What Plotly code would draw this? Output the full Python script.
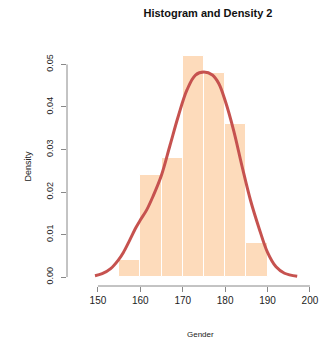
import plotly.graph_objects as go

bin_edges = [155, 160, 165, 170, 175, 180, 185, 190]
bin_density = [0.004, 0.024, 0.028, 0.052, 0.048, 0.036, 0.008]

dens_x = [149.3, 151, 153, 154.8, 156, 157.5, 159, 160, 161.5, 163, 165, 167, 169,
          171, 173, 175, 177, 178.5, 180, 182, 184, 186, 188, 190, 192, 194, 197]
dens_y = [0.0003, 0.0008, 0.002, 0.004, 0.0058, 0.0087, 0.0117, 0.0134, 0.0158, 0.019,
          0.024, 0.031, 0.038, 0.044, 0.0475, 0.0482, 0.0475, 0.0455, 0.0415, 0.0345,
          0.026, 0.018, 0.0115, 0.0058, 0.0024, 0.0009, 0.0002]

x_ticks = [150, 160, 170, 180, 190, 200]
y_ticks = [0.00, 0.01, 0.02, 0.03, 0.04, 0.05]
y_tick_text = ["0.00", "0.01", "0.02", "0.03", "0.04", "0.05"]

centers = [(a + b) / 2 for a, b in zip(bin_edges[:-1], bin_edges[1:])]
widths = [b - a for a, b in zip(bin_edges[:-1], bin_edges[1:])]

fig = go.Figure()
fig.add_trace(go.Bar(x=centers, y=bin_density, width=widths,
                     marker=dict(color="#FDDBBB", line=dict(color="white", width=1)),
                     hoverinfo="skip"))
fig.add_trace(go.Scatter(x=dens_x, y=dens_y, mode="lines", line_shape="spline",
                         line=dict(color="#C6524F", width=3)))

axcol = "#888888"
fig.update_layout(
    width=329, height=339,
    margin=dict(l=67, r=0, t=47, b=53),
    paper_bgcolor="white", plot_bgcolor="white",
    showlegend=False, bargap=0,
    font=dict(family="Liberation Sans, Arial, sans-serif", color="#222222"),
    title=dict(text="<b>Histogram and Density 2</b>", x=208/329, xref="container",
               xanchor="center", y=1-13/339, yref="container", yanchor="middle",
               font=dict(size=11, color="#111111")),
    xaxis=dict(range=[142.7, 204.5], tickvals=x_ticks, ticks="outside", ticklen=5,
               tickcolor=axcol, showgrid=False, zeroline=False, showline=False,
               tickfont=dict(size=10, color="#222222")),
    yaxis=dict(range=[-0.0021, 0.0541], tickvals=y_ticks, ticktext=y_tick_text,
               ticks="outside", ticklen=5, tickcolor=axcol, tickangle=-90,
               ticklabelstandoff=4,
               showgrid=False, zeroline=False, showline=False,
               tickfont=dict(size=9, color="#222222"),
               title=dict(text="Density", font=dict(size=9), standoff=12)),
    shapes=[
        dict(type="line", xref="x", yref="paper", x0=min(x_ticks), x1=max(x_ticks),
             y0=0, y1=0, line=dict(color=axcol, width=1)),
        dict(type="line", xref="paper", yref="y", x0=0, x1=0,
             y0=min(y_ticks), y1=max(y_ticks), line=dict(color=axcol, width=1)),
    ],
    annotations=[dict(text="Gender", xref="paper", yref="paper",
                      x=(200-67)/(329-67), y=-(334-286)/(339-47-53),
                      showarrow=False, font=dict(size=8, color="#222222"),
                      xanchor="center", yanchor="middle")],
)
fig.write_html("out.html")
